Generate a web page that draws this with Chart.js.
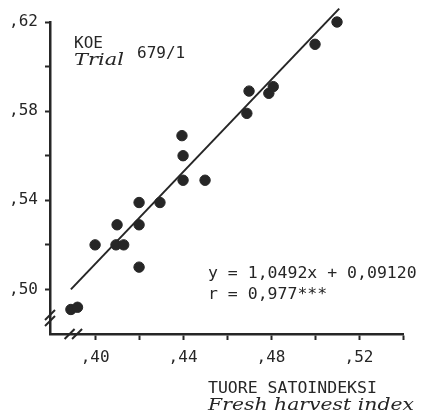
<!DOCTYPE html>
<html>
<head>
<meta charset="utf-8">
<script src="https://cdn.jsdelivr.net/npm/chart.js@4.4.1/dist/chart.umd.min.js"></script>
<style>
  body { margin: 0; background: #fff; }
  canvas { display: block; }
</style>
</head>
<body>
<canvas id="chart" width="431" height="415"></canvas>
<script>
// fresh harvest index (x) vs. dry harvest index (y), trial 679/1
var harvestX = [0.389, 0.392, 0.400, 0.4095, 0.410, 0.413, 0.420, 0.420, 0.420, 0.4295,
                0.440, 0.440, 0.4395, 0.450, 0.469, 0.470, 0.479, 0.481, 0.500, 0.510];
var harvestY = [0.491, 0.492, 0.520, 0.520, 0.529, 0.520, 0.510, 0.529, 0.539, 0.539,
                0.549, 0.560, 0.569, 0.549, 0.579, 0.589, 0.588, 0.591, 0.610, 0.620];
// regression line as drawn
var lineX = [0.389, 0.511];
var lineY = [0.500, 0.626];

var xTicks = [0.40, 0.42, 0.44, 0.46, 0.48, 0.50, 0.52, 0.54];
var xLabels = [',40', '', ',44', '', ',48', '', ',52', ''];
var yTicks = [0.50, 0.52, 0.54, 0.56, 0.58, 0.60, 0.62];
var yLabels = [',50', '', ',54', '', ',58', '', ',62'];

var ink = '#262626';

var points = harvestX.map(function(x, i) { return {x: x, y: harvestY[i]}; });
var line = lineX.map(function(x, i) { return {x: x, y: lineY[i]}; });

// italic serif text squeezed to the width it has in the original
function fitText(ctx, txt, x, y, w) {
  var m = ctx.measureText(txt).width;
  ctx.save();
  ctx.translate(x, y);
  ctx.scale(w / m, 1);
  ctx.fillText(txt, 0, 0);
  ctx.restore();
}

var notes = {
  id: 'notes',
  afterDraw: function(chart) {
    var ctx = chart.ctx;
    var xs = chart.scales.x, ys = chart.scales.y;
    ctx.save();
    ctx.fillStyle = ink;
    ctx.textBaseline = 'alphabetic';
    ctx.textAlign = 'left';
    ctx.font = '16px "DejaVu Sans Mono"';
    ctx.fillText('KOE', 74, 48);
    ctx.fillText('679/1', 137, 58);
    ctx.font = 'italic 17px "DejaVu Serif"';
    fitText(ctx, 'Trial', 74, 65, 50);
    ctx.font = '16.5px "DejaVu Sans Mono"';
    ctx.fillText('y = 1,0492x + 0,09120', 208, 278);
    ctx.fillText('r = 0,977***', 208, 299);
    ctx.fillText('TUORE SATOINDEKSI', 208, 393);
    ctx.font = 'italic 17px "DejaVu Serif"';
    fitText(ctx, 'Fresh harvest index', 208, 410, 206);

    // axis breaks
    ctx.strokeStyle = ink;
    ctx.lineWidth = 2;
    var bx = xs.left;
    [0.4885, 0.4858].forEach(function(v) {
      var py = ys.getPixelForValue(v);
      ctx.beginPath();
      ctx.moveTo(bx - 5, py + 5);
      ctx.lineTo(bx + 5, py - 5);
      ctx.stroke();
    });
    var by = ys.bottom;
    [0.3884, 0.3918].forEach(function(v) {
      var px = xs.getPixelForValue(v);
      ctx.beginPath();
      ctx.moveTo(px - 5, by + 5);
      ctx.lineTo(px + 5, by - 5);
      ctx.stroke();
    });
    ctx.restore();
  }
};

var scatterChart = new Chart(document.getElementById('chart').getContext('2d'), {
  type: 'scatter',
  data: {
    datasets: [{
      data: points,
      backgroundColor: ink,
      borderColor: ink,
      pointRadius: 5.2,
      clip: false
    }, {
      type: 'line',
      data: line,
      borderColor: ink,
      borderWidth: 2,
      pointRadius: 0,
      fill: false,
      clip: false
    }]
  },
  options: {
    responsive: false,
    animation: false,
    layout: { padding: { top: 22, right: 28, left: 0, bottom: 0 } },
    plugins: { legend: { display: false }, tooltip: { enabled: false } },
    scales: {
      x: {
        type: 'linear',
        min: 0.3795,
        max: 0.54,
        afterBuildTicks: function(s) { s.ticks = xTicks.map(function(v) { return {value: v}; }); },
        afterFit: function(s) { s.height = 81; },
        ticks: {
          autoSkip: false,
          maxRotation: 0,
          padding: 8,
          color: ink,
          font: { family: 'DejaVu Sans Mono', size: 16 },
          callback: function(v, i) { return xLabels[i]; }
        },
        grid: { drawOnChartArea: false, drawTicks: true, tickLength: 6, tickColor: ink, tickWidth: 2 },
        border: { display: true, color: ink, width: 2.5 }
      },
      y: {
        type: 'linear',
        min: 0.480,
        max: 0.62,
        afterBuildTicks: function(s) { s.ticks = yTicks.map(function(v) { return {value: v}; }); },
        afterFit: function(s) { s.width = 50; },
        ticks: {
          autoSkip: false,
          padding: 7,
          color: ink,
          font: { family: 'DejaVu Sans Mono', size: 16 },
          callback: function(v, i) { return yLabels[i]; }
        },
        grid: { drawOnChartArea: false, drawTicks: true, tickLength: 5, tickColor: ink, tickWidth: 2 },
        border: { display: true, color: ink, width: 2.5 }
      }
    }
  },
  plugins: [notes]
});
</script>
</body>
</html>
